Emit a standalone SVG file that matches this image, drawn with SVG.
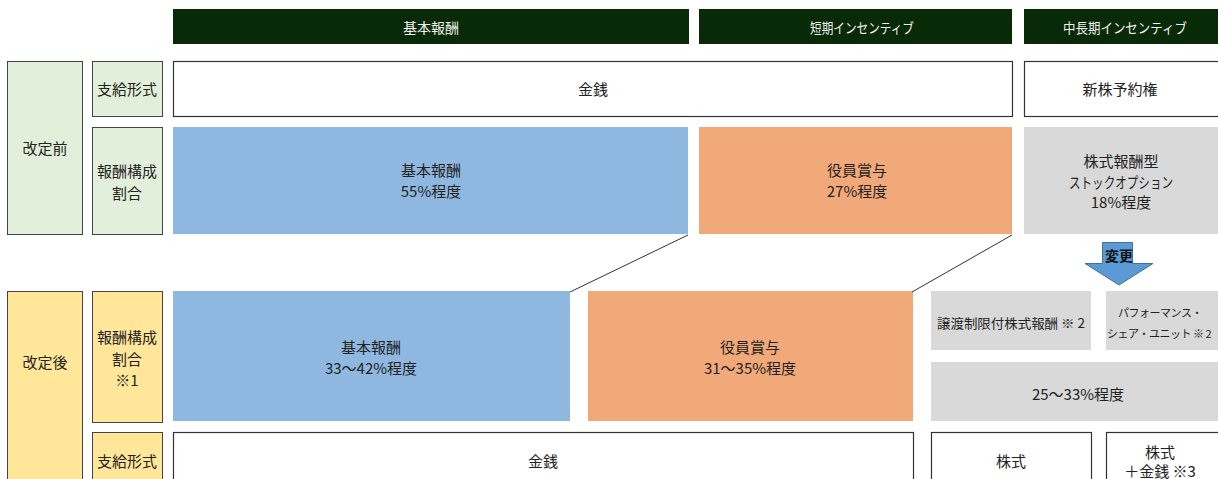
<svg xmlns="http://www.w3.org/2000/svg" width="1218" height="479" viewBox="0 0 1218 479">
<style>
text{font-family:"Noto Sans CJK JP","Noto Sans",sans-serif;font-size:15px;fill:#222;text-anchor:middle;dominant-baseline:central}
.hd{fill:#092a06}
.hdt{fill:#f2f2f2;font-size:14px}
.g{fill:#e2efda;stroke:#444;stroke-width:1}
.y{fill:#ffe699;stroke:#444;stroke-width:1}
.w{fill:#fff;stroke:#333;stroke-width:1.2}
.b{fill:#8fb8e0}
.o{fill:#f2a97a}
.gr{fill:#d9d9d9}
.sm{font-size:13px}
.xs{font-size:11px;letter-spacing:-0.5px}
.con{stroke:#333;stroke-width:1;fill:none}
</style>
<g id="header-base"><rect class="hd" x="173" y="9" width="516" height="35"/><text class="hdt" x="431" y="27">基本報酬</text></g>
<g id="header-short"><rect class="hd" x="699" y="9" width="313" height="35"/><text class="hdt" x="862" y="27" textLength="104" lengthAdjust="spacingAndGlyphs">短期インセンティブ</text></g>
<g id="header-mid"><rect class="hd" x="1024" y="9" width="194" height="35"/><text class="hdt" x="1125" y="27" textLength="124" lengthAdjust="spacingAndGlyphs">中長期インセンティブ</text></g>

<g id="before-label"><rect class="g" x="7.5" y="61.5" width="75" height="173"/><text x="45" y="147">改定前</text></g>
<g id="before-form-label"><rect class="g" x="92.5" y="61.5" width="70" height="55"/><text x="127" y="88">支給形式</text></g>
<g id="before-ratio-label"><rect class="g" x="92.5" y="127.5" width="70" height="107"/><text x="127" y="170">報酬構成</text><text x="127" y="192">割合</text></g>
<g id="before-cash"><rect class="w" x="173.5" y="61.5" width="839" height="55"/><text x="593" y="88">金銭</text></g>
<g id="before-option"><rect class="w" x="1024.5" y="61.5" width="196" height="55"/><text x="1120" y="88">新株予約権</text></g>
<g id="before-base"><rect class="b" x="173" y="127" width="515" height="107"/><text x="431" y="169">基本報酬</text><text x="431" y="190">55%程度</text></g>
<g id="before-bonus"><rect class="o" x="699" y="127" width="313" height="107"/><text x="857" y="169">役員賞与</text><text x="857" y="190">27%程度</text></g>
<g id="before-stock"><rect class="gr" x="1024" y="127" width="194" height="107"/><text x="1121" y="160">株式報酬型</text><text x="1121" y="181" textLength="104" lengthAdjust="spacingAndGlyphs">ストックオプション</text><text x="1121" y="201">18%程度</text></g>

<g id="change-arrow"><path d="M1102.5 242.5H1132.5V263.5H1153L1119 285L1085 263.5H1102.5Z" fill="#5b9bd5" stroke="#41719c" stroke-width="1"/><text x="1119" y="255" style="font-weight:bold;font-size:14px;fill:#111">変更</text></g>

<g id="after-label"><rect class="y" x="7.5" y="291.5" width="75" height="190"/><text x="45" y="361">改定後</text></g>
<g id="after-ratio-label"><rect class="y" x="92.5" y="291.5" width="70" height="131"/><text x="127" y="336">報酬構成</text><text x="127" y="358">割合</text><text x="127" y="379">※1</text></g>
<g id="after-form-label"><rect class="y" x="92.5" y="432.5" width="70" height="50"/><text x="127" y="460">支給形式</text></g>
<g id="after-base"><rect class="b" x="173" y="291" width="397" height="130"/><text x="371" y="346">基本報酬</text><text x="371" y="367">33～42%程度</text></g>
<g id="after-bonus"><rect class="o" x="588" y="291" width="325" height="130"/><text x="750" y="346">役員賞与</text><text x="750" y="367">31～35%程度</text></g>
<g id="after-rs"><rect class="gr" x="931" y="291" width="160" height="59"/><text class="sm" x="1011" y="322" textLength="148" lengthAdjust="spacingAndGlyphs">譲渡制限付株式報酬 ※ 2</text></g>
<g id="after-psu"><rect class="gr" x="1106" y="291" width="112" height="59"/><text class="xs" x="1160" y="312">パフォーマンス・</text><text class="xs" x="1159" y="333">シェア・ユニット ※ 2</text></g>
<g id="after-stock-ratio"><rect class="gr" x="931" y="362" width="287" height="59"/><text x="1078" y="393">25～33%程度</text></g>
<g id="after-cash"><rect class="w" x="173.5" y="432.5" width="740" height="50"/><text x="543" y="460">金銭</text></g>
<g id="after-stock"><rect class="w" x="931.5" y="432.5" width="160" height="50"/><text x="1011" y="460">株式</text></g>
<g id="after-stock-cash"><rect class="w" x="1106.5" y="432.5" width="114" height="50"/><text x="1160" y="451">株式</text><text x="1160" y="470">＋金銭 ※3</text></g>

<g id="connectors"><line class="con" x1="688" y1="235" x2="570" y2="292"/><line class="con" x1="1012" y1="235" x2="912" y2="292"/></g>
</svg>
